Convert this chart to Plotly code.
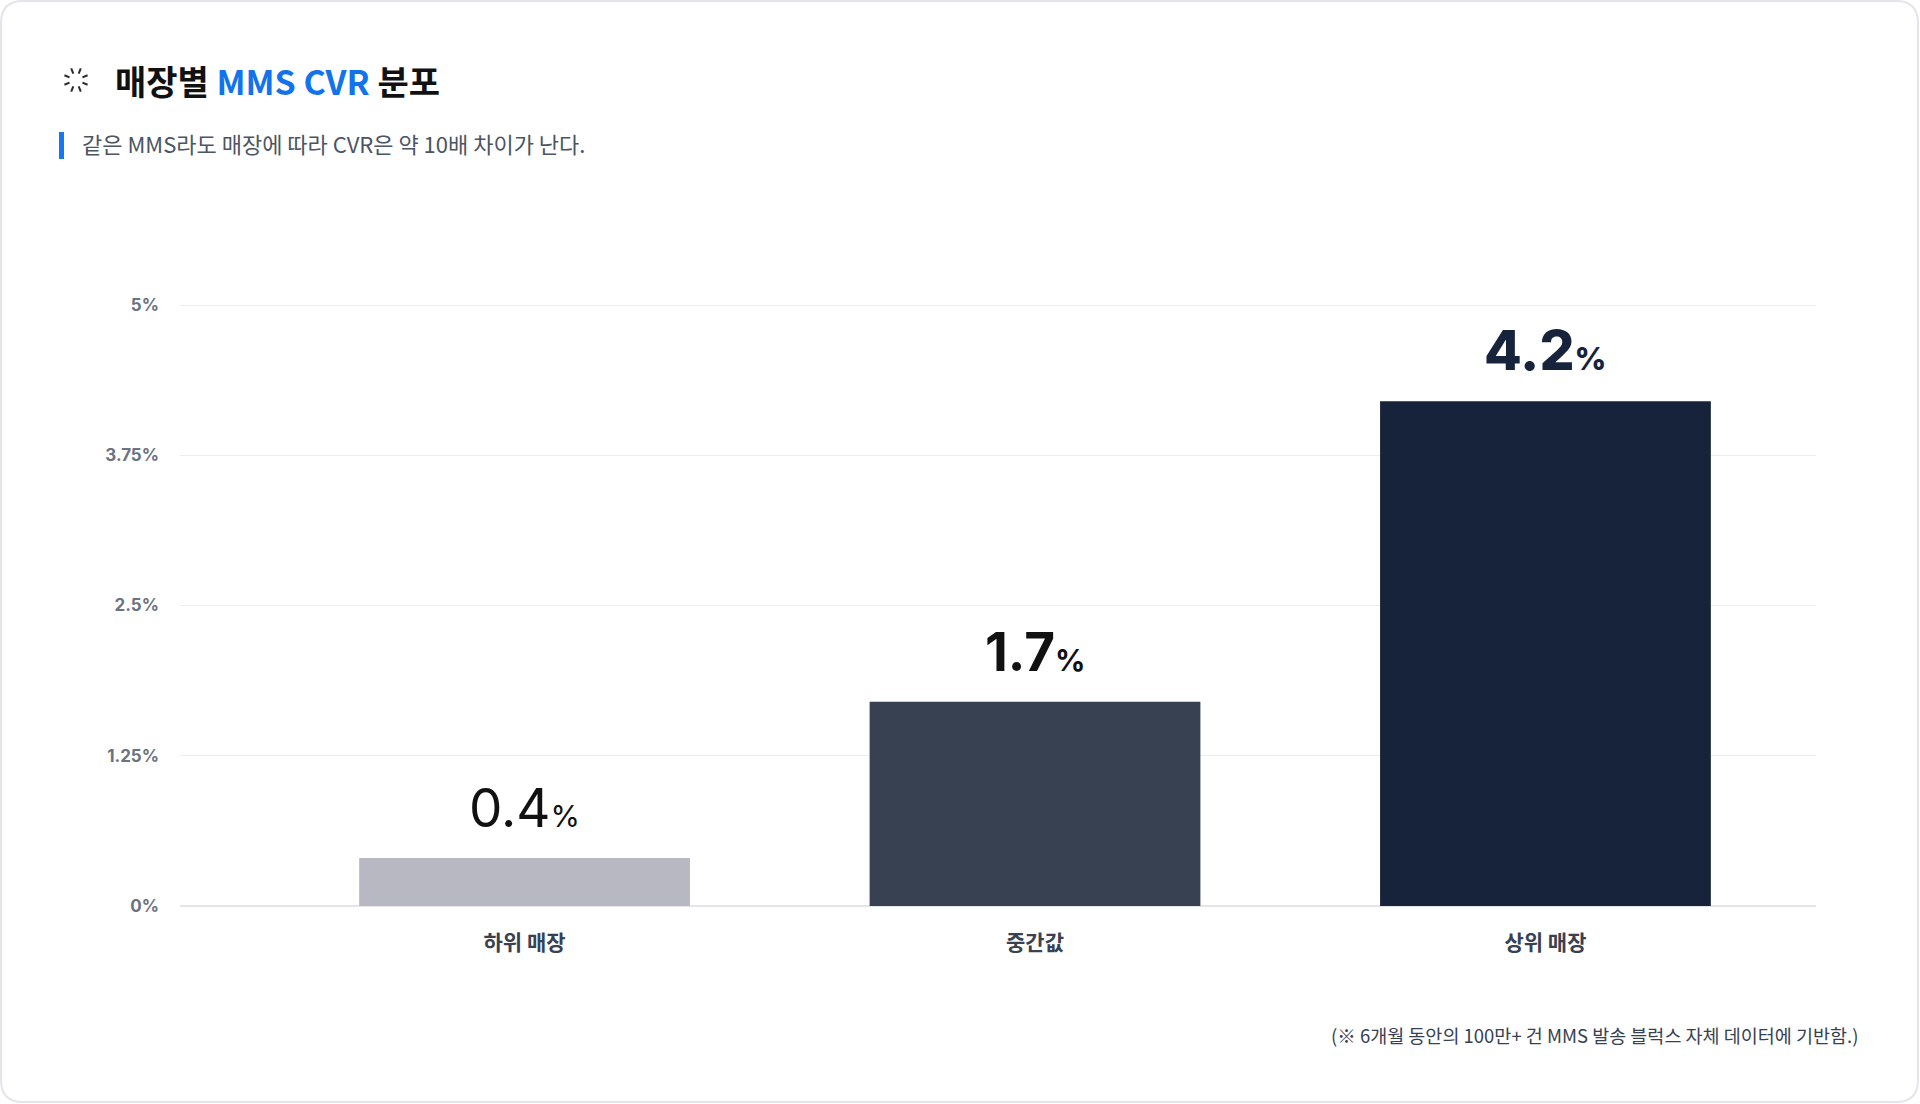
import math

import plotly.graph_objects as go

# ---------------------------------------------------------------------------
# Data
# ---------------------------------------------------------------------------
categories = ["하위 매장", "중간값", "상위 매장"]
cvr_values = [0.4, 1.7, 4.2]
bar_colors = ["#b7b8c1", "#374151", "#17233b"]
label_colors = ["#111111", "#111111", "#17233b"]
label_weights = [400, 700, 800]
label_sizes = [53, 53, 55]

y_tickvals = [0, 1.25, 2.5, 3.75, 5]
y_ticktext = ["0%", "1.25%", "2.5%", "3.75%", "5%"]

title_text = ("매장별 <span style='color:#1273ea'>MMS CVR</span> 분포")
subtitle_text = "같은 MMS라도 매장에 따라 CVR은 약 10배 차이가 난다."
footnote_text = "(※ 6개월 동안의 100만+ 건 MMS 발송 블럭스 자체 데이터에 기반함.)"

# ---------------------------------------------------------------------------
# Layout helpers (pixel -> paper)
# ---------------------------------------------------------------------------
W, H = 1920, 1104
ML, MR, MT, MB = 180, 104, 303, 198
PW, PH = W - ML - MR, H - MT - MB


def px(x):
    return (x - ML) / PW


def py(y):
    return (H - MB - y) / PH


FONT = "Noto Sans CJK KR, Noto Sans, sans-serif"

fig = go.Figure()
fig.add_bar(
    x=categories,
    y=cvr_values,
    marker=dict(color=bar_colors, line=dict(width=0)),
    hoverinfo="skip",
    showlegend=False,
)

# value labels on top of bars
for cat, val, col, wt, sz in zip(categories, cvr_values, label_colors,
                                 label_weights, label_sizes):
    fig.add_annotation(
        x=cat, y=val, xref="x", yref="y",
        text=f"{val}<span style='font-size:{int(sz * 0.57)}px'>%</span>",
        showarrow=False, yanchor="bottom", yshift=16,
        font=dict(family="Inter, Noto Sans CJK KR, sans-serif", size=sz,
                  color=col, weight=wt),
    )

# card outline (rounded rectangle)
x0, x1, y0, y1, r = 1, 1918, 1, 1102, 22
card_path = (
    f"M {px(x0 + r)},{py(y0)} L {px(x1 - r)},{py(y0)} "
    f"Q {px(x1)},{py(y0)} {px(x1)},{py(y0 + r)} "
    f"L {px(x1)},{py(y1 - r)} Q {px(x1)},{py(y1)} {px(x1 - r)},{py(y1)} "
    f"L {px(x0 + r)},{py(y1)} Q {px(x0)},{py(y1)} {px(x0)},{py(y1 - r)} "
    f"L {px(x0)},{py(y0 + r)} Q {px(x0)},{py(y0)} {px(x0 + r)},{py(y0)} Z"
)
shapes = [dict(type="path", path=card_path, xref="paper", yref="paper",
               line=dict(color="#e3e5ea", width=2), layer="below")]

# subtitle accent bar
shapes.append(dict(type="rect", xref="paper", yref="paper",
                   x0=px(59), x1=px(64), y0=py(159), y1=py(132),
                   fillcolor="#1677f0", line=dict(width=0)))

# spinner icon next to title
cx, cy = 76, 80
for i in range(8):
    a = math.radians(i * 45 + 22.5)
    shapes.append(dict(
        type="line", xref="paper", yref="paper",
        x0=px(cx + 7 * math.cos(a)), y0=py(cy + 7 * math.sin(a)),
        x1=px(cx + 12.5 * math.cos(a)), y1=py(cy + 12.5 * math.sin(a)),
        line=dict(color="#2a2a2a", width=2),
    ))

annotations = [
    dict(text=f"<b>{title_text}</b>", x=px(113), y=py(80), xref="paper", yref="paper",
         xanchor="left", yanchor="middle", showarrow=False,
         font=dict(family=FONT, size=34, color="#111111")),
    dict(text=subtitle_text, x=px(80), y=py(143), xref="paper", yref="paper",
         xanchor="left", yanchor="middle", showarrow=False,
         font=dict(family=FONT, size=22, color="#4b5563")),
    dict(text=footnote_text, x=px(1860), y=py(1035), xref="paper", yref="paper",
         xanchor="right", yanchor="middle", showarrow=False,
         font=dict(family=FONT, size=18.5, color="#374151")),
]

fig.update_layout(
    width=W, height=H,
    margin=dict(l=ML, r=MR, t=MT, b=MB, autoexpand=False),
    paper_bgcolor="white", plot_bgcolor="white",
    bargap=0.352,
    shapes=shapes,
    annotations=list(fig.layout.annotations) + annotations,
)
fig.update_xaxes(
    range=[-0.675, 2.53], showgrid=False, showline=False, zeroline=False,
    ticks="", ticklabelstandoff=22,
    tickfont=dict(family=FONT, size=21, color="#374151", weight=700),
)
fig.update_yaxes(
    range=[0, 5.017], tickvals=y_tickvals, ticktext=y_ticktext,
    showgrid=True, gridcolor="#eceef1", gridwidth=1.3,
    zeroline=True, zerolinecolor="#e3e5ea", zerolinewidth=1.5,
    showline=False, ticks="", ticklabelstandoff=20,
    tickfont=dict(family="Inter, sans-serif", size=17, color="#6b7280", weight=700),
)

fig.write_html("out.html", config={"displayModeBar": False},
               post_script="document.body.style.margin='0';")
